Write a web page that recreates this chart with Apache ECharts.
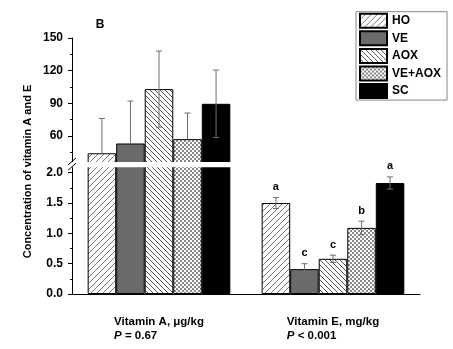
<!DOCTYPE html>
<html>
<head>
<meta charset="utf-8">
<script src="https://cdn.jsdelivr.net/npm/echarts@6/dist/echarts.min.js"></script>
<style>
html, body { margin: 0; padding: 0; background: #fff; }
#chart { width: 453px; height: 349px; }
</style>
</head>
<body>
<div id="chart"></div>
<script>
// Diet groups and the two measured vitamins
const groups = ['HO', 'VE', 'AOX', 'VE+AOX', 'SC'];
const categories = ['Vitamin A, μg/kg', 'Vitamin E, mg/kg'];
const pValues = [' = 0.67', ' < 0.001'];

// Means and SE per group
const vitA = [44, 53, 103, 57, 89.5];
const vitAErr = [32, 39, 35, 24, 31];
const vitE = [1.50, 0.41, 0.58, 1.09, 1.83];
const vitEErr = [0.09, 0.09, 0.06, 0.11, 0.10];
const vitELetters = ['a', 'c', 'c', 'b', 'a'];

// Tick values of the broken y axis
const upperTicks = [60, 90, 120, 150];
const upperMinor = [45, 75, 105, 135];
const lowerTicks = [0, 0.5, 1.0, 1.5, 2.0];
const lowerMinor = [0.25, 0.75, 1.25, 1.75];

// Break: upper panel shows values from 36, lower panel up to 2.09
const upperBreak = 36;
const lowerBreak = 2.09;

const FONT = 'Liberation Sans, Arial, sans-serif';
const BAR_SHARE = 0.164;

function hatch(forward, step, color, lw) {
  const c = document.createElement('canvas');
  c.width = step; c.height = step;
  const g = c.getContext('2d');
  g.fillStyle = '#fff';
  g.fillRect(0, 0, step, step);
  g.strokeStyle = color;
  g.lineWidth = lw;
  g.beginPath();
  if (forward) {
    g.moveTo(-1, step + 1); g.lineTo(step + 1, -1);
    g.moveTo(-2, 2); g.lineTo(2, -2);
    g.moveTo(step - 2, step + 2); g.lineTo(step + 2, step - 2);
  } else {
    g.moveTo(-1, -1); g.lineTo(step + 1, step + 1);
    g.moveTo(step - 2, -2); g.lineTo(step + 2, 2);
    g.moveTo(-2, step - 2); g.lineTo(2, step + 2);
  }
  g.stroke();
  return c;
}

function checker(cell, color) {
  const c = document.createElement('canvas');
  c.width = cell * 2; c.height = cell * 2;
  const g = c.getContext('2d');
  g.fillStyle = '#fff';
  g.fillRect(0, 0, cell * 2, cell * 2);
  g.fillStyle = color;
  g.fillRect(0, 0, cell, cell);
  g.fillRect(cell, cell, cell, cell);
  return c;
}

const fills = [
  { image: hatch(true, 6, '#777', 1), repeat: 'repeat' },
  '#6b6b6b',
  { image: hatch(false, 5, '#555', 1), repeat: 'repeat' },
  { image: checker(2, '#8a8a8a'), repeat: 'repeat' },
  '#000'
];

const series = [];
groups.forEach((g, i) => {
  const itemStyle = { color: fills[i], borderColor: '#000', borderWidth: 1 };
  series.push({
    name: g, type: 'bar', xAxisIndex: 0, yAxisIndex: 0,
    data: [vitA[i], '-'], barWidth: (BAR_SHARE * 100) + '%', barGap: '0%',
    itemStyle, emphasis: { disabled: true }
  });
  series.push({
    name: g, type: 'bar', xAxisIndex: 1, yAxisIndex: 2,
    data: [vitA[i], vitE[i]], barWidth: (BAR_SHARE * 100) + '%', barGap: '0%',
    itemStyle, emphasis: { disabled: true }
  });
});

// x position of bar k inside its category
function barX(api, c, k) {
  const bw = api.size([1, 0])[0] * BAR_SHARE;
  return api.coord([c, 0])[0] + (k - 2) * bw;
}

// Error bars drawn over the bars
function errorSeries(xIdx, yIdx, cat, means, errs, floor) {
  return {
    type: 'custom', xAxisIndex: xIdx, yAxisIndex: yIdx, clip: true, z: 5,
    encode: { x: 0, y: 1 },
    silent: true,
    data: means.map((m, k) => [cat, m, errs[k], k]),
    renderItem(params, api) {
      const c = api.value(0), m = api.value(1), e = api.value(2), k = api.value(3);
      const x = barX(api, c, k);
      const yMid = api.coord([c, m])[1];
      const yTop = api.coord([c, m + e])[1];
      const cap = 3;
      const st = { stroke: '#6e6e6e', lineWidth: 1 };
      const kids = [
        { type: 'line', shape: { x1: x, y1: yTop, x2: x, y2: yMid }, style: st },
        { type: 'line', shape: { x1: x - cap, y1: yTop, x2: x + cap, y2: yTop }, style: st }
      ];
      if (m - e >= floor) {
        const yBot = api.coord([c, m - e])[1];
        kids.push({ type: 'line', shape: { x1: x, y1: yMid, x2: x, y2: yBot }, style: st });
        kids.push({ type: 'line', shape: { x1: x - cap, y1: yBot, x2: x + cap, y2: yBot }, style: st });
      }
      return { type: 'group', children: kids };
    }
  };
}

// Significance letters above the error bars
function letterSeries(xIdx, yIdx, cat, means, errs, letters) {
  return {
    type: 'custom', xAxisIndex: xIdx, yAxisIndex: yIdx, clip: false, z: 200,
    encode: { x: 0, y: 1 },
    silent: true,
    data: means.map((m, k) => [cat, m + errs[k], k]),
    renderItem(params, api) {
      const c = api.value(0), top = api.value(1), k = api.value(2);
      return {
        type: 'text',
        style: {
          text: letters[k], x: barX(api, c, k), y: api.coord([c, top])[1] - 5,
          align: 'center', verticalAlign: 'bottom',
          font: 'bold 11px ' + FONT, fill: '#000'
        }
      };
    }
  };
}

series.push(errorSeries(0, 0, 0, vitA, vitAErr, upperBreak));
series.push(errorSeries(1, 2, 1, vitE, vitEErr, 0));
series.push(letterSeries(1, 2, 1, vitE, vitEErr, vitELetters));

const tickLabel = { color: '#000', fontFamily: FONT, fontWeight: 'bold', fontSize: 12, margin: 9 };
const axisBlack = { lineStyle: { color: '#000', width: 1 } };

const option = {
  animation: false,
  backgroundColor: '#fff',
  grid: [
    { left: 72, right: 33, top: 38, height: 126.7, outerBoundsMode: 'none', containLabel: false },
    { left: 72, right: 33, top: 164.2, height: 129.8, outerBoundsMode: 'none', containLabel: false }
  ],
  xAxis: [
    { type: 'category', gridIndex: 0, data: categories, show: false },
    {
      type: 'category', gridIndex: 1, data: categories, position: 'bottom',
      axisLine: axisBlack,
      axisTick: { alignWithLabel: true, length: 4, lineStyle: { color: '#000' } },
      axisLabel: {
        interval: 0, margin: 21, color: '#000',
        formatter: (v, i) => '{t|' + v + '}\n{p|P}{v|' + pValues[i] + '}',
        rich: {
          t: { fontFamily: FONT, fontWeight: 'bold', fontSize: 11.5, color: '#000', lineHeight: 14, align: 'left' },
          p: { fontFamily: FONT, fontWeight: 'bold', fontStyle: 'italic', fontSize: 11.5, color: '#000', lineHeight: 14, align: 'left' },
          v: { fontFamily: FONT, fontWeight: 'bold', fontSize: 11.5, color: '#000', lineHeight: 14, align: 'left' }
        }
      }
    },
    {
      type: 'category', gridIndex: 1, data: categories, position: 'bottom',
      axisLine: { show: false },
      axisTick: { alignWithLabel: false, length: 3, lineStyle: { color: '#000' } },
      axisLabel: { show: false }
    }
  ],
  yAxis: [
    {
      type: 'value', gridIndex: 0, min: 33.5, max: 150, position: 'left',
      axisLine: { show: true, lineStyle: { color: '#000' } },
      axisTick: { show: true, length: 4, customValues: upperTicks, lineStyle: { color: '#000' } },
      axisLabel: Object.assign({ customValues: upperTicks }, tickLabel),
      splitLine: { show: false }
    },
    {
      type: 'value', gridIndex: 0, min: 33.5, max: 150, position: 'left',
      axisLine: { show: false },
      axisTick: { show: true, length: 2, customValues: upperMinor, lineStyle: { color: '#000' } },
      axisLabel: { show: false },
      splitLine: { show: false }
    },
    {
      type: 'value', gridIndex: 1, min: 0, max: 2.14, position: 'left',
      axisLine: { show: true, lineStyle: { color: '#000' } },
      axisTick: { show: true, length: 4, customValues: lowerTicks, lineStyle: { color: '#000' } },
      axisLabel: Object.assign({ customValues: lowerTicks, formatter: v => v.toFixed(1) }, tickLabel),
      splitLine: { show: false }
    },
    {
      type: 'value', gridIndex: 1, min: 0, max: 2.14, position: 'left',
      axisLine: { show: false },
      axisTick: { show: true, length: 2, customValues: lowerMinor, lineStyle: { color: '#000' } },
      axisLabel: { show: false },
      splitLine: { show: false }
    }
  ],
  legend: {
    data: groups, orient: 'vertical', left: 356, top: 11.7,
    itemWidth: 27, itemHeight: 14, itemGap: 1.6,
    padding: [1, 6, 1, 3],
    borderColor: '#888', borderWidth: 1, icon: 'rect',
    selectedMode: false,
    textStyle: { fontFamily: FONT, fontWeight: 'bold', fontSize: 12, color: '#000' }
  },
  series: series
};

const chart = echarts.init(document.getElementById('chart'), null, { renderer: 'canvas' });
chart.setOption(option);

// Axis break band and "//" marks, placed from the axis scales
const gridRect = chart.getModel().getComponent('grid', 1).coordinateSystem.getRect();
const axisX = gridRect.x;
const plotRight = gridRect.x + gridRect.width;
const yUp = chart.convertToPixel({ yAxisIndex: 0 }, upperBreak);
const yLow = chart.convertToPixel({ yAxisIndex: 2 }, lowerBreak);
const yMidBreak = (yUp + yLow) / 2;
const gapHalf = (yLow - yUp) / 2;

chart.setOption({
  graphic: [
    {
      type: 'rect', z: 100, silent: true,
      shape: { x: axisX - 6, y: yUp, width: plotRight - axisX + 10, height: yLow - yUp },
      style: { fill: '#fff' }
    },
    {
      type: 'line', z: 101, silent: true,
      shape: { x1: axisX - 4, y1: yMidBreak - gapHalf + 3, x2: axisX + 4, y2: yMidBreak - gapHalf - 4 },
      style: { stroke: '#000', lineWidth: 1 }
    },
    {
      type: 'line', z: 101, silent: true,
      shape: { x1: axisX - 4, y1: yMidBreak + gapHalf + 3, x2: axisX + 4, y2: yMidBreak + gapHalf - 4 },
      style: { stroke: '#000', lineWidth: 1 }
    },
    {
      type: 'text', z: 101, silent: true, x: 100, y: 25,
      style: { text: 'B', align: 'center', verticalAlign: 'middle', font: 'bold 12px ' + FONT, fill: '#000' }
    },
    {
      type: 'text', z: 101, silent: true, x: 28, y: 171.5, rotation: Math.PI / 2,
      style: {
        text: 'Concentration of vitamin A and E', align: 'center', verticalAlign: 'middle',
        font: 'bold 11px ' + FONT, fill: '#000'
      }
    }
  ]
});
</script>
</body>
</html>
